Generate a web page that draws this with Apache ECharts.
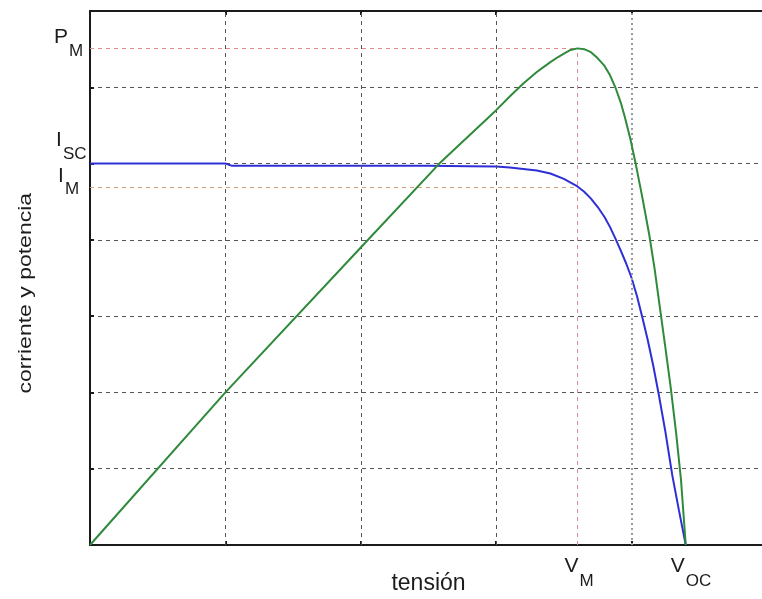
<!DOCTYPE html>
<html>
<head>
<meta charset="utf-8">
<script src="https://cdn.jsdelivr.net/npm/echarts@6/dist/echarts.min.js"></script>
<style>
  html, body { margin: 0; padding: 0; background: #fff; }
  #chart { width: 762px; height: 599px; }
</style>
</head>
<body>
<div id="chart"></div>
<script>
// I-V curve of a solar cell (blue) and the power it delivers (green)
const currentV = [0, 1.0, 1.05, 2.0, 2.5, 2.8, 3.0, 3.1, 3.2, 3.3, 3.4, 3.5, 3.6, 3.65, 3.7, 3.75, 3.8, 3.84, 3.88, 3.92, 3.96, 4.0, 4.04, 4.08, 4.12, 4.16, 4.2, 4.25, 4.3, 4.35, 4.40];
const currentI = [5.0, 5.0, 4.97, 4.97, 4.97, 4.965, 4.96, 4.95, 4.93, 4.91, 4.87, 4.80, 4.70, 4.63, 4.54, 4.43, 4.30, 4.17, 4.02, 3.86, 3.69, 3.50, 3.26, 2.98, 2.68, 2.35, 1.98, 1.48, 0.92, 0.45, 0];

const powerV = [0, 1.0, 2.0, 2.58, 3.0, 3.1, 3.2, 3.3, 3.4, 3.46, 3.5, 3.55, 3.6, 3.65, 3.7, 3.75, 3.8, 3.84, 3.88, 3.92, 3.95, 3.99, 4.03, 4.08, 4.13, 4.17, 4.21, 4.25, 4.29, 4.33, 4.365, 4.40];
const powerP = [0, 2.0, 3.9, 5.0, 5.7, 5.88, 6.05, 6.2, 6.33, 6.4, 6.44, 6.49, 6.51, 6.5, 6.46, 6.38, 6.28, 6.16, 6.0, 5.8, 5.61, 5.33, 5.0, 4.55, 4.07, 3.62, 3.1, 2.58, 2.05, 1.45, 0.85, 0];

// characteristic points
const V_M = 3.6, V_OC = 4.4, I_SC = 5.0, I_M = 4.69, P_M = 6.51;

// tick labels (main letter + subscript)
const yLabelMain = ['P', 'I', 'I'];
const yLabelSub = ['M', 'SC', 'M'];
const yLabelValue = [P_M, I_SC, I_M];
const xLabelMain = ['V', 'V'];
const xLabelSub = ['M', 'OC'];
const xLabelValue = [V_M, V_OC];

const xTitle = 'tensión';
const yTitle = 'corriente y potencia';

const FONT = '"Liberation Sans", Arial, Helvetica, sans-serif';
const TEXT = '#1c1c1c';
const GRID_DASH = '#555';

const zip = (a, b) => a.map((v, i) => [v, b[i]]);

const chart = echarts.init(document.getElementById('chart'), null, { renderer: 'canvas' });

const axisCommon = {
  type: 'value',
  interval: 1,
  axisLine: { show: true, onZero: false, lineStyle: { color: '#1a1a1a', width: 2 } },
  axisTick: { show: true, inside: true, length: 4, lineStyle: { color: '#1a1a1a', width: 2 } },
  axisLabel: { show: false }
};

chart.setOption({
  animation: false,
  backgroundColor: '#fff',
  grid: { left: 90, top: 11, width: 677, height: 534, show: false, outerBoundsMode: 'none', containLabel: false },
  xAxis: [
    Object.assign({}, axisCommon, { min: 0, max: 5, position: 'bottom', splitLine: { show: false } }),
    Object.assign({}, axisCommon, { min: 0, max: 5, position: 'top', splitLine: { show: false } })
  ],
  yAxis: [
    Object.assign({}, axisCommon, {
      min: 0, max: 7, position: 'left',
      splitLine: { show: true, lineStyle: { color: GRID_DASH, width: 1, type: [4, 4] } }
    })
  ],
  series: [
    {
      // vertical grid lines and the guides to the maximum power point
      type: 'line',
      data: [],
      silent: true,
      markLine: {
        symbol: 'none',
        silent: true,
        label: { show: false },
        data: [
          { xAxis: 1, lineStyle: { color: GRID_DASH, width: 1, type: [4, 4] } },
          { xAxis: 2, lineStyle: { color: GRID_DASH, width: 1, type: [4, 4] } },
          { xAxis: 3, lineStyle: { color: GRID_DASH, width: 1, type: [4, 4] } },
          { xAxis: 4, lineStyle: { color: '#9a9aa0', width: 2, type: [2, 3] } },
          [
            { coord: [0, P_M], lineStyle: { color: '#e08a8a', width: 1, type: [4, 4] } },
            { coord: [V_M, P_M] }
          ],
          [
            { coord: [0, I_M], lineStyle: { color: '#d6a27a', width: 1, type: [4, 4] } },
            { coord: [V_M, I_M] }
          ],
          [
            { coord: [V_M, 0], lineStyle: { color: '#d98c98', width: 1, type: [4, 4] } },
            { coord: [V_M, P_M] }
          ]
        ]
      }
    },
    {
      name: 'corriente',
      type: 'line',
      data: zip(currentV, currentI),
      showSymbol: false,
      lineStyle: { color: '#2f2fd6', width: 2 },
      itemStyle: { color: '#2f2fd6' },
      z: 4
    },
    {
      name: 'potencia',
      type: 'line',
      data: zip(powerV, powerP),
      showSymbol: false,
      lineStyle: { color: '#2f8a3a', width: 2 },
      itemStyle: { color: '#2f8a3a' },
      z: 5
    }
  ]
});

// labels with subscripts, anchored to the axes through the chart's scales
const px = (x, y) => chart.convertToPixel({ gridIndex: 0 }, [x, y]);
const MAIN = 21, SUB = 17, TITLE = 23;
const txt = (x, y, s, size) => ({
  type: 'text', x: x, y: y, silent: true,
  style: { text: s, fill: TEXT, font: size + 'px ' + FONT, align: 'left', verticalAlign: 'bottom' }
});

const graphics = [];
// per-label nudges so the stacked I_SC / I_M labels do not overlap
const yNudge = [0, -12, 0];
const xNudge = [0, 2, 4];
yLabelValue.forEach((v, i) => {
  const p = px(0, v);
  const baseX = p[0] - 36 + xNudge[i];
  graphics.push(txt(baseX, p[1] - 1 + yNudge[i], yLabelMain[i], MAIN));
  graphics.push(txt(baseX + (yLabelMain[i] === 'I' ? 7 : 15), p[1] + 11 + yNudge[i], yLabelSub[i], SUB));
});
xLabelValue.forEach((v, i) => {
  const p = px(v, 0);
  const baseX = p[0] - 13 + (i === 1 ? -2 : 0);
  graphics.push(txt(baseX, p[1] + 32, xLabelMain[i], MAIN));
  graphics.push(txt(baseX + 15, p[1] + 45, xLabelSub[i], SUB));
});

const xMid = px(2.5, 0);
graphics.push({
  type: 'text', x: xMid[0], y: xMid[1] + 39, silent: true,
  style: { text: xTitle, fill: TEXT, font: TITLE + 'px ' + FONT, align: 'center', verticalAlign: 'middle' }
});
graphics.push({
  type: 'text', x: 26, y: px(0, 3.3)[1], rotation: Math.PI / 2, scaleY: 0.8, silent: true,
  style: { text: yTitle, fill: TEXT, font: TITLE + 'px ' + FONT, align: 'center', verticalAlign: 'middle' }
});

chart.setOption({ graphic: graphics });
</script>
</body>
</html>
